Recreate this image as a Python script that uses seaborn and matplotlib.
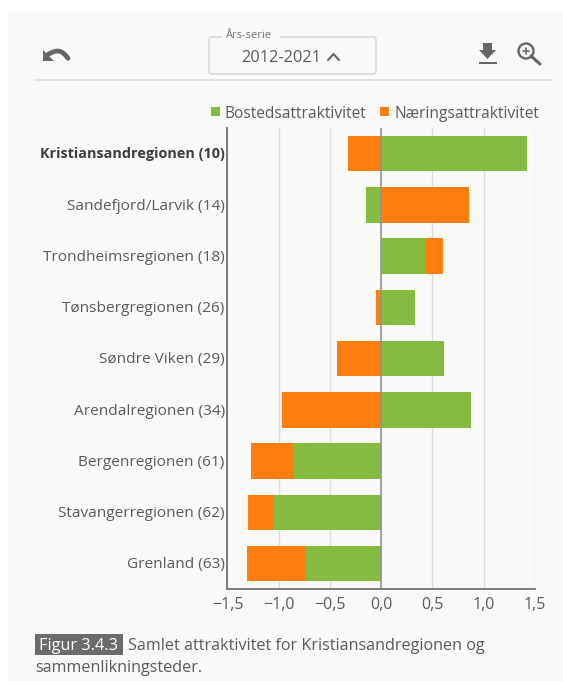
import matplotlib
matplotlib.use("Agg")
import matplotlib.pyplot as plt
from matplotlib.patches import Rectangle, FancyBboxPatch, Polygon, Ellipse
from matplotlib.lines import Line2D
from matplotlib.transforms import ScaledTranslation
import seaborn as sns
import pandas as pd
import numpy as np

regions = ["Kristiansandregionen (10)", "Sandefjord/Larvik (14)", "Trondheimsregionen (18)",
           "Tønsbergregionen (26)", "Søndre Viken (29)", "Arendalregionen (34)",
           "Bergenregionen (61)", "Stavangerregionen (62)", "Grenland (63)"]
bosted = [1.424, -0.146, 0.426, 0.328, 0.611, 0.871, -0.855, -1.047, -0.735]
naering = [-0.32, 0.852, 0.172, -0.05, -0.436, -0.969, -0.413, -0.25, -0.572]
xticks = [-1.5, -1.0, -0.5, 0.0, 0.5, 1.0, 1.5]
xticklabels = ["−1,5", "−1,0", "−0,5", "0,0", "0,5", "1,0", "1,5"]
legend_labels = ["Bostedsattraktivitet", "Næringsattraktivitet"]
period = "2012-2021"
dropdown_label = "Års-serie"
caption_tag = "Figur 3.4.3"
caption_1 = "Samlet attraktivitet for Kristiansandregionen og"
caption_2 = "sammenlikningsteder."

GREEN = "#85bb3f"
ORANGE = "#ff7f0e"
TEXT = "#5a5a5a"
PANEL = "#f9f9f8"
ICON = "#666666"
W, H = 563, 681

sns.set_theme(style="white")
plt.rcParams["font.family"] = ["Open Sans", "DejaVu Sans"]

fig = plt.figure(figsize=(W / 100, H / 100), dpi=100, facecolor="white")

def px(x, y):
    return x / W, 1 - y / H

# panel background
fig.patches.append(Rectangle((8 / W, 0), (W - 8) / W, 1 - 12 / H, transform=fig.transFigure,
                             facecolor=PANEL, edgecolor="none", zorder=-5))

ax = fig.add_axes([227.5 / W, 1 - 589.3 / H, (535 - 227.5) / W, (589.3 - 128) / H])
ax.patch.set_alpha(0)

df = pd.DataFrame({"region": regions, "bosted": bosted, "naering": naering})
# the second series stacks onto the first when both share a sign
df["start"] = np.where(np.sign(df.bosted) == np.sign(df.naering), df.bosted, 0.0)

sns.barplot(data=df, y="region", x="bosted", color=GREEN, saturation=1, width=0.69,
            errorbar=None, ax=ax, zorder=3, linewidth=0)
sns.barplot(data=df, y="region", x="naering", left=df["start"].values, color=ORANGE, saturation=1,
            width=0.69, errorbar=None, ax=ax, zorder=3, linewidth=0)

ax.set_xlim(-1.5, 1.5)
ax.set_ylim(8.5, -0.5)
ax.set_xlabel("")
ax.set_ylabel("")
ax.set_xticks(xticks)
ax.set_xticklabels(xticklabels)
ax.grid(axis="x", color="#dcdcdc", linewidth=1, zorder=0)
ax.set_axisbelow(True)
ax.axvline(0, color="#8a9299", linewidth=1.1, zorder=4)
for s in ["top", "right"]:
    ax.spines[s].set_visible(False)
for s in ["left", "bottom"]:
    ax.spines[s].set_color("#7c7c7c")
    ax.spines[s].set_linewidth(1.4)
ax.tick_params(axis="x", length=0, pad=5.5, labelsize=11.5, labelcolor=TEXT)
ax.tick_params(axis="y", length=0, pad=2, labelsize=11.1, labelcolor=TEXT)
lift = ScaledTranslation(0, 0.5 / 72, fig.dpi_scale_trans)
for lab in ax.get_yticklabels():
    lab.set_transform(lab.get_transform() + lift)
ax.get_yticklabels()[0].set_fontweight("bold")
ax.get_yticklabels()[0].set_fontsize(10.4)
ax.get_yticklabels()[0].set_color("#3d3d3d")

# legend
for (sx, tx, col, lab) in [(211, 224, GREEN, legend_labels[0]), (380, 394, ORANGE, legend_labels[1])]:
    fig.patches.append(Rectangle(px(sx, 116), 9 / W, 9 / H, transform=fig.transFigure,
                                 facecolor=col, edgecolor="none"))
    fig.text(*px(tx, 113.5), lab, fontsize=11.2, color=TEXT, va="center", ha="left")

# toolbar
fig.add_artist(Line2D([35 / W, 552 / W], [1 - 80 / H] * 2, color="#dedede", linewidth=1.2))
box = FancyBboxPatch(px(209, 74), 167 / W, 37 / H, transform=fig.transFigure,
                     boxstyle="round,pad=0,rounding_size=0.005", facecolor="none",
                     edgecolor="#d6d6d6", linewidth=1.1)
fig.patches.append(box)
fig.patches.append(Rectangle(px(222, 39), 58 / W, 5 / H, transform=fig.transFigure,
                             facecolor=PANEL, edgecolor="none"))
fig.text(*px(225, 35), dropdown_label, fontsize=8, color="#777777", va="center", ha="left")
fig.text(*px(241, 58.5), period, fontsize=11.8, color=TEXT, va="center", ha="left")
fig.add_artist(Line2D([328 / W, 333.5 / W, 339 / W], [1 - 60 / H, 1 - 54 / H, 1 - 60 / H],
                      color=ICON, linewidth=1.5))

# undo icon
fig.patches.append(Polygon([px(43, 50), px(43, 61), px(54, 61)], closed=True, transform=fig.transFigure,
                           facecolor=ICON, edgecolor="none"))
t = np.linspace(0, 1, 20)
fig.add_artist(Line2D((48 + 20 * t) / W, 1 - (54.5 - 4.5 * np.sin(t * np.pi * 0.8) + 6.5 * t ** 3) / H,
                      color=ICON, linewidth=3.4))

# download icon
fig.patches.append(Polygon([px(483, 43), px(492, 43), px(492, 50), px(496, 50), px(487.5, 59), px(479, 50), px(483, 50)],
                           closed=True, transform=fig.transFigure, facecolor=ICON, edgecolor="none"))
fig.patches.append(Rectangle(px(479, 64), 18 / W, 2 / H, transform=fig.transFigure,
                             facecolor=ICON, edgecolor="none"))

# search icon
fig.add_artist(Line2D([531 / W, 540 / W], [1 - 56 / H, 1 - 64 / H], color=ICON, linewidth=2.2))
fig.patches.append(Ellipse(px(526, 51), 15 / W, 15 / H, transform=fig.transFigure, facecolor="none",
                           edgecolor=ICON, linewidth=1.7))
fig.add_artist(Line2D([523 / W, 529 / W], [1 - 51 / H] * 2, color=ICON, linewidth=1.2))
fig.add_artist(Line2D([526 / W, 526 / W], [1 - 48 / H, 1 - 54 / H], color=ICON, linewidth=1.2))

# caption
fig.patches.append(Rectangle(px(35, 655), 88 / W, 21 / H, transform=fig.transFigure,
                             facecolor="#6b6b6b", edgecolor="none"))
fig.text(*px(39, 646.5), caption_tag, fontsize=11.7, color="white", va="center", ha="left")
fig.text(*px(128, 646.5), caption_1, fontsize=11.65, color=TEXT, va="center", ha="left")
fig.text(*px(35, 668.5), caption_2, fontsize=11.65, color=TEXT, va="center", ha="left")

fig.savefig("out.png", dpi=100, facecolor="white")
